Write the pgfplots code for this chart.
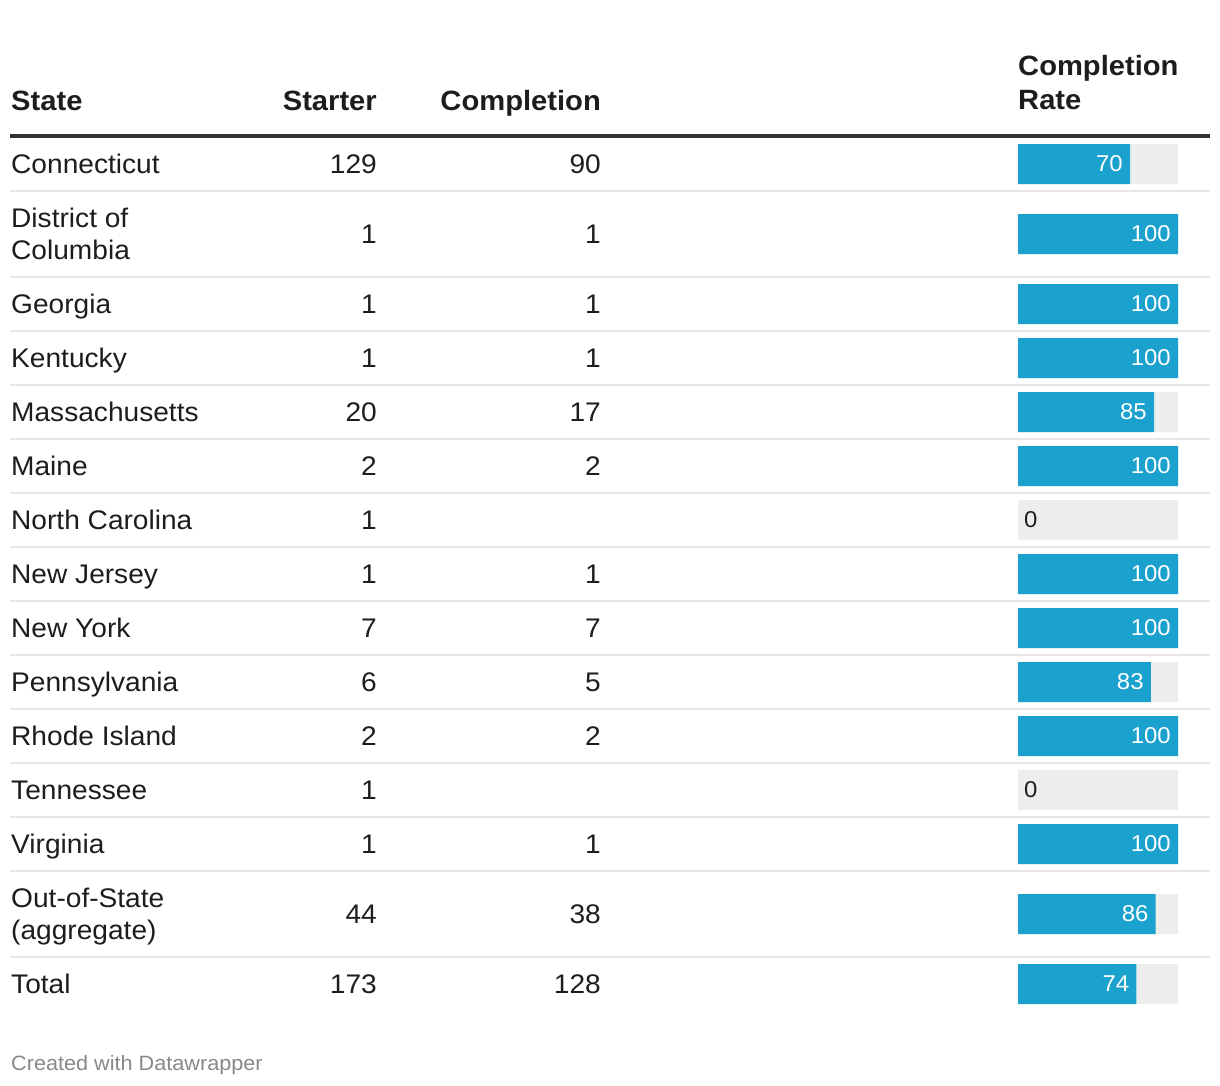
\documentclass[border=0pt]{standalone}
\usepackage{pgfplots}
\pgfplotsset{compat=1.18}
\usepackage{pgfplotstable}
\usepackage{fontspec}
\setmainfont[FakeStretch=1.045]{Liberation Sans}
\definecolor{barblue}{HTML}{1AA1CE}
\definecolor{track}{HTML}{EDEDED}
\definecolor{txt}{HTML}{1D1D1D}
\definecolor{sep}{HTML}{E6E6E6}
\definecolor{rulec}{HTML}{333333}
\definecolor{foot}{HTML}{888888}

\pgfplotstableread{
y rate full
164 70 100
234 100 100
304 100 100
358 100 100
412 85 100
466 100 100
520 0 100
574 100 100
628 100 100
682 83 100
736 100 100
790 0 100
844 100 100
914 86 100
984 74 100
}\ratetable

\newcommand{\bodyfont}{\fontsize{27}{32}\selectfont}
\newcommand{\headfont}{\fontsize{28}{35}\selectfont\bfseries}
\newcommand{\labfont}{\fontsize{23}{28}\selectfont}

\begin{document}
\begin{tikzpicture}[x=1bp,y=-1bp]
\path (0,0) rectangle (1220,1086);

% header
\begin{scope}[every node/.style={inner sep=0pt, text=txt, font=\headfont}]
\node[anchor=base west] at (11,110) {State};
\node[anchor=base east] at (377,110) {Starter};
\node[anchor=base east] at (601,110) {Completion};
\node[anchor=base west] at (1018,75) {Completion};
\node[anchor=base west] at (1018,109) {Rate};
\end{scope}
\draw[rulec, line width=4bp] (10,136) -- (1210,136);

% separators
\foreach \yy in {191,277,331,385,439,493,547,601,655,709,763,817,871,957}
  \draw[sep, line width=2bp] (10,\yy) -- (1210,\yy);

% body text
\begin{scope}[every node/.style={inner sep=0pt, text=txt, font=\bodyfont}]
\foreach \yy/\nm/\st/\co in {164/Connecticut/129/90, 234/{}/1/1, 304/Georgia/1/1, 358/Kentucky/1/1,
  412/Massachusetts/20/17, 466/Maine/2/2, 520/North Carolina/1/{}, 574/New Jersey/1/1,
  628/New York/7/7, 682/Pennsylvania/6/5, 736/Rhode Island/2/2, 790/Tennessee/1/{},
  844/Virginia/1/1, 914/{}/44/38, 984/Total/173/128} {
  \node[anchor=base west] at (11,\yy+9) {\nm};
  \node[anchor=base east] at (377,\yy+9) {\st};
  \node[anchor=base east] at (601,\yy+9) {\co};
}
\node[anchor=base west] at (11,227) {District of};
\node[anchor=base west] at (11,259) {Columbia};
\node[anchor=base west] at (11,907) {Out-of-State};
\node[anchor=base west] at (11,939) {(aggregate)};
\end{scope}

\node[anchor=base west, inner sep=0pt, text=foot, font=\fontsize{20.8}{25}\selectfont] at (11,1070) {Created with Datawrapper};

\coordinate (bo) at (1018,144);
\begin{axis}[at={(bo)}, anchor=north west, width=160bp, height=860bp, scale only axis,
  xmin=0, xmax=100, ymin=144, ymax=1004, y dir=reverse, enlargelimits=false,
  hide axis, clip=false, /pgf/number format/assume math mode=true,
  xbar, bar width=40, bar shift=0pt]
\addplot[fill=track, draw=none] table[x=full,y=y]{\ratetable};
\addplot[fill=barblue, draw=none, x filter/.expression={x==0 ? nan : x}, unbounded coords=discard,
  nodes near coords, point meta=x, nodes near coords align={anchor=east},
  nodes near coords style={xshift=-7bp, text=white, font=\labfont, inner sep=0pt}]
  table[x=rate,y=y]{\ratetable};
\addplot[draw=none, fill=none, x filter/.expression={x==0 ? x : nan}, unbounded coords=discard,
  nodes near coords, point meta=x, nodes near coords align={anchor=west},
  nodes near coords style={xshift=6bp, text=txt, font=\labfont, inner sep=0pt}]
  table[x=rate,y=y]{\ratetable};
\end{axis}
\end{tikzpicture}
\end{document}
